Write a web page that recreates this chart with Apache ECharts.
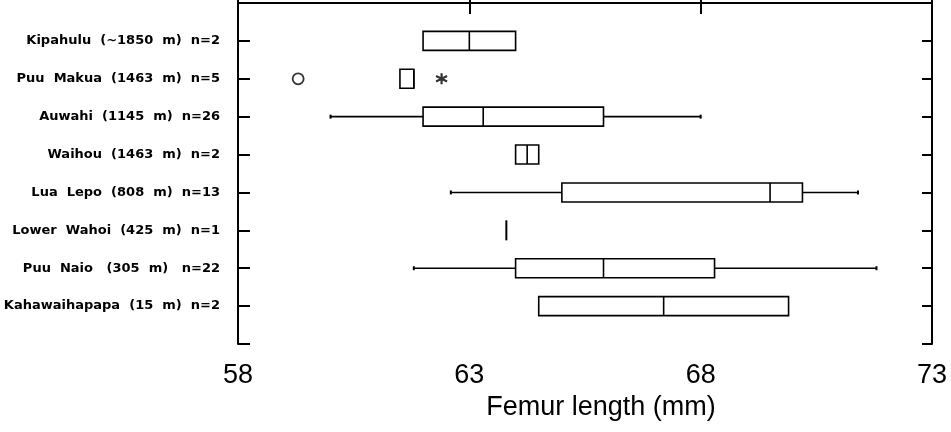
<!DOCTYPE html>
<html>
<head>
<meta charset="utf-8">
<title>Femur length</title>
<script src="https://cdn.jsdelivr.net/npm/echarts@6/dist/echarts.min.js"></script>
<style>
  html, body { margin: 0; padding: 0; background: #fff; }
  #chart-container { width: 951px; height: 432px; }
</style>
</head>
<body>
<div id="chart-container"></div>
<script>
// 站点（从上到下）
var sites = [
  "Kipahulu  (~1850  m)  n=2",
  "Puu  Makua  (1463  m)  n=5",
  "Auwahi  (1145  m)  n=26",
  "Waihou  (1463  m)  n=2",
  "Lua  Lepo  (808  m)  n=13",
  "Lower  Wahoi  (425  m)  n=1",
  "Puu  Naio   (305  m)   n=22",
  "Kahawaihapapa  (15  m)  n=2"
];
// 箱线图数值 (mm)
var whiskerLow = [null, null, 60.0, null, 62.6, null, 61.8, null];
var q1 = [62.0, 61.5, 62.0, 64.0, 65.0, 63.8, 64.0, 64.5];
var median = [63.0, 61.8, 63.3, 64.25, 69.5, 63.8, 65.9, 67.2];
var q3 = [64.0, 61.8, 65.9, 64.5, 70.2, 63.8, 68.3, 69.9];
var whiskerHigh = [null, null, 68.0, null, 71.4, null, 71.8, null];
// 离群点
var outlierCircle = [[59.3, 2]];
var outlierStar = [[62.4, 2]];
var xTicks = [58, 63, 68, 73];

var boxData = sites.map(function (s, i) {
  return [i + 1, q1[i], median[i], q3[i], whiskerLow[i], whiskerHigh[i]];
});

var dom = document.getElementById("chart-container");
var myChart = echarts.init(dom, null, { renderer: "canvas" });

function renderBox(params, api) {
  var y = api.value(0);
  var lo = api.value(1), md = api.value(2), hi = api.value(3);
  var wl = api.value(4), wh = api.value(5);
  var p1 = api.coord([lo, y]);
  var p2 = api.coord([md, y]);
  var p3 = api.coord([hi, y]);
  var h = 19;
  var st = { stroke: "#000", lineWidth: 1.6, fill: null };
  var kids = [];
  if (hi - lo < 0.05) {
    // n=1 只有一条竖线
    kids.push({ type: "line", shape: { x1: p2[0], y1: p2[1] - 10, x2: p2[0], y2: p2[1] + 10 }, style: { stroke: "#000", lineWidth: 2 } });
    return { type: "group", children: kids };
  }
  kids.push({ type: "rect", shape: { x: p1[0], y: p1[1] - h / 2, width: p3[0] - p1[0], height: h }, style: st });
  kids.push({ type: "line", shape: { x1: p2[0], y1: p2[1] - h / 2, x2: p2[0], y2: p2[1] + h / 2 }, style: st });
  if (!isNaN(wl) && wl != null) {
    var pl = api.coord([wl, y]);
    kids.push({ type: "line", shape: { x1: pl[0], y1: pl[1], x2: p1[0], y2: p1[1] }, style: st });
    kids.push({ type: "line", shape: { x1: pl[0], y1: pl[1] - 2, x2: pl[0], y2: pl[1] + 2 }, style: { stroke: "#000", lineWidth: 2 } });
  }
  if (!isNaN(wh) && wh != null) {
    var ph = api.coord([wh, y]);
    kids.push({ type: "line", shape: { x1: p3[0], y1: p3[1], x2: ph[0], y2: ph[1] }, style: st });
    kids.push({ type: "line", shape: { x1: ph[0], y1: ph[1] - 2, x2: ph[0], y2: ph[1] + 2 }, style: { stroke: "#000", lineWidth: 2 } });
  }
  return { type: "group", children: kids };
}

var axisLine = { show: true, lineStyle: { color: "#000", width: 2 } };

var option = {
  backgroundColor: "#fff",
  animation: false,
  grid: { left: 238, right: 19, top: 3, bottom: 88, outerBoundsMode: "none", containLabel: false },
  xAxis: [
    {
      type: "value",
      position: "bottom",
      min: xTicks[0],
      max: xTicks[xTicks.length - 1],
      interval: 5,
      axisLine: axisLine,
      axisTick: { inside: true, length: 11, lineStyle: { color: "#000", width: 2 } },
      axisLabel: { color: "#000", fontSize: 27, fontFamily: "Liberation Sans", margin: 18 },
      splitLine: { show: false },
      name: "Femur length (mm)",
      nameLocation: "middle",
      nameGap: 50,
      nameTextStyle: { color: "#000", fontSize: 27, fontFamily: "Liberation Sans", padding: [0, 0, 0, 32] }
    },
    {
      type: "value",
      position: "top",
      min: xTicks[0],
      max: xTicks[xTicks.length - 1],
      interval: 5,
      axisLine: axisLine,
      axisTick: { inside: true, length: 11, lineStyle: { color: "#000", width: 2 } },
      axisLabel: { show: false },
      splitLine: { show: false }
    }
  ],
  yAxis: [
    {
      type: "value",
      position: "left",
      min: 0,
      max: 9,
      interval: 1,
      inverse: true,
      axisLine: axisLine,
      axisTick: { inside: true, length: 12, lineStyle: { color: "#000", width: 2 } },
      axisLabel: {
        color: "#000",
        fontSize: 13,
        fontWeight: "bold",
        fontFamily: "DejaVu Sans",
        margin: 18,
        formatter: function (v) {
          return sites[v - 1] || "";
        }
      },
      splitLine: { show: false }
    },
    {
      type: "value",
      position: "right",
      min: 0,
      max: 9,
      interval: 1,
      inverse: true,
      axisLine: axisLine,
      axisTick: { inside: true, length: 10, lineStyle: { color: "#000", width: 2 } },
      axisLabel: { show: false },
      splitLine: { show: false }
    }
  ],
  series: [
    {
      type: "custom",
      renderItem: renderBox,
      encode: { x: [1, 2, 3, 4, 5], y: 0 },
      data: boxData
    },
    {
      type: "scatter",
      symbol: "circle",
      symbolSize: 11,
      itemStyle: { color: "#fff", borderColor: "#000", borderWidth: 1.8 },
      data: outlierCircle
    },
    {
      type: "scatter",
      symbol: "path://M0,-5L0,5M-4.3,-2.5L4.3,2.5M-4.3,2.5L4.3,-2.5",
      symbolSize: 11,
      itemStyle: { color: "none", borderColor: "#000", borderWidth: 2.2 },
      data: outlierStar
    }
  ]
};

myChart.setOption(option);
</script>
</body>
</html>
